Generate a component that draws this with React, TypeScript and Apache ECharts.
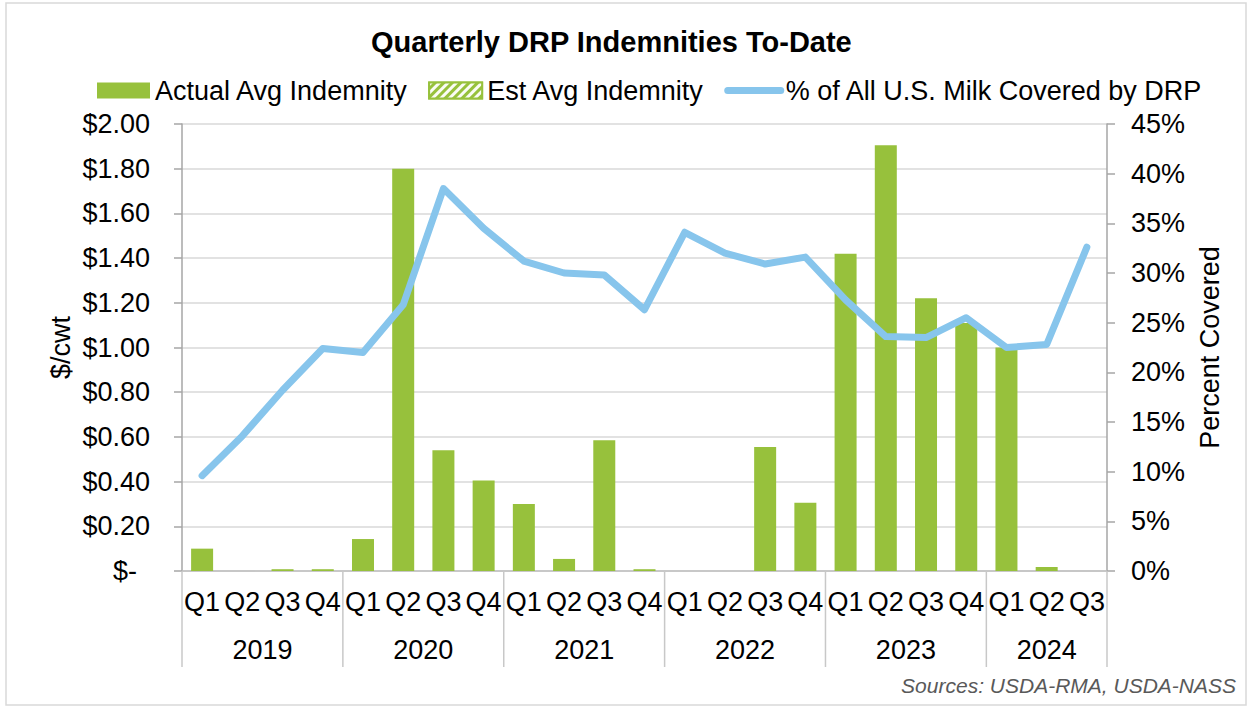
import React, { useEffect, useRef } from 'react';
import * as echarts from 'echarts';

const FONT = '"Liberation Sans", Arial, Helvetica, sans-serif';

const quarters = [
  'Q1', 'Q2', 'Q3', 'Q4',
  'Q1', 'Q2', 'Q3', 'Q4',
  'Q1', 'Q2', 'Q3', 'Q4',
  'Q1', 'Q2', 'Q3', 'Q4',
  'Q1', 'Q2', 'Q3', 'Q4',
  'Q1', 'Q2', 'Q3',
];
const years = ['2019', '2020', '2021', '2022', '2023', '2024'];
const quartersPerYear = [4, 4, 4, 4, 4, 3];

const actualIndemnity: (number | null)[] = [
  0.10, 0, 0.008, 0.008,
  0.143, 1.80, 0.54, 0.405,
  0.30, 0.054, 0.585, 0.008,
  0, 0, 0.555, 0.305,
  1.42, 1.905, 1.22, 1.11,
  1.00, 0.018, null,
];
const estIndemnity: (number | null)[] = [
  null, null, null, null,
  null, null, null, null,
  null, null, null, null,
  null, null, null, null,
  null, null, null, null,
  null, null, null,
];
const pctCovered = [
  9.6, 13.6, 18.2, 22.4,
  22.0, 26.8, 38.5, 34.5,
  31.2, 30.0, 29.8, 26.3,
  34.1, 32.0, 30.9, 31.6,
  27.3, 23.6, 23.5, 25.5,
  22.5, 22.8, 32.6,
];

const GREEN = '#97C13C';
const BLUE = '#87C5EC';
const FS = 27;

function yearStarts() {
  const out: number[] = [];
  let s = 0;
  for (const c of quartersPerYear) {
    out.push(s);
    s += c;
  }
  return out;
}

export default function App() {
  const ref = useRef<HTMLDivElement>(null);
  useEffect(() => {
    const chart = echarts.init(ref.current!, null, { renderer: 'svg' });
    const starts = yearStarts();
    const option: any = {
      animation: false,
      backgroundColor: '#ffffff',
      title: {
        text: 'Quarterly DRP Indemnities To-Date',
        left: 366,
        top: 22,
        textStyle: { fontFamily: FONT, fontSize: 29, fontWeight: 'bold', color: '#000' },
      },
      legend: {
        left: 92,
        top: 72,
        itemWidth: 53,
        itemHeight: 16,
        itemGap: 20,
        textStyle: { fontFamily: FONT, fontSize: FS, color: '#000' },
        data: [
          { name: 'Actual Avg Indemnity', icon: 'rect' },
          { name: 'Est Avg Indemnity', icon: 'rect' },
          {
            name: '% of All U.S. Milk Covered by DRP',
            itemStyle: { opacity: 0 },
            lineStyle: { width: 7, cap: 'round', color: BLUE },
          },
        ],
      },
      grid: { left: 182, right: 145, top: 124, bottom: 138, containLabel: false },
      xAxis: [
        {
          type: 'category',
          data: quarters,
          boundaryGap: true,
          axisLine: { show: true, lineStyle: { color: '#BFBFBF', width: 1.5 } },
          axisTick: { show: false },
          axisLabel: { fontFamily: FONT, fontSize: FS, color: '#000', margin: 17, interval: 0 },
          splitLine: { show: false },
        },
      ],
      yAxis: [
        {
          type: 'value',
          min: 0,
          max: 2,
          interval: 0.2,
          name: '$/cwt',
          nameLocation: 'middle',
          nameGap: 108,
          nameMoveOverlap: false,
          nameTextStyle: { fontFamily: FONT, fontSize: FS, color: '#000' },
          axisLine: { show: true, lineStyle: { color: '#A6A6A6', width: 1.5 } },
          axisTick: { show: true, length: 8, lineStyle: { color: '#A6A6A6', width: 1.5 } },
          axisLabel: {
            fontFamily: FONT,
            fontSize: FS,
            color: '#000',
            margin: 32,
            formatter: (v: number) => (v === 0 ? '{z|$-}' : '$' + v.toFixed(2)),
            rich: { z: { fontFamily: FONT, fontSize: FS, color: '#000', padding: [0, 13, 0, 0] } },
          },
          splitLine: { show: true, lineStyle: { color: '#D9D9D9', width: 1.5 } },
        },
        {
          type: 'value',
          min: 0,
          max: 45,
          interval: 5,
          position: 'right',
          name: 'Percent Covered',
          nameLocation: 'middle',
          nameGap: 89,
          nameMoveOverlap: false,
          nameTextStyle: { fontFamily: FONT, fontSize: FS, color: '#000' },
          axisLine: { show: true, lineStyle: { color: '#A6A6A6', width: 1.5 } },
          axisTick: { show: true, length: 8, lineStyle: { color: '#A6A6A6', width: 1.5 } },
          axisLabel: { fontFamily: FONT, fontSize: FS, color: '#000', margin: 24, formatter: '{value}%' },
          splitLine: { show: false },
        },
      ],
      series: [
        {
          name: 'Actual Avg Indemnity',
          type: 'bar',
          stack: 'ind',
          barWidth: 22,
          data: actualIndemnity,
          itemStyle: { color: GREEN },
          z: 2,
        },
        {
          name: 'Est Avg Indemnity',
          type: 'bar',
          stack: 'ind',
          barWidth: 22,
          data: estIndemnity,
          itemStyle: {
            color: GREEN,
            borderColor: GREEN,
            borderWidth: 1,
            decal: {
              symbol: 'rect',
              symbolSize: 1,
              color: 'rgba(255,255,255,0.95)',
              dashArrayX: [1, 0],
              dashArrayY: [3, 3],
              rotation: -Math.PI / 4,
            },
          },
          z: 2,
        },
        {
          name: '% of All U.S. Milk Covered by DRP',
          type: 'line',
          yAxisIndex: 1,
          data: pctCovered,
          symbol: 'none',
          lineStyle: { color: BLUE, width: 7, cap: 'round', join: 'round' },
          itemStyle: { color: BLUE },
          z: 5,
        },
        {
          name: 'yearGroups',
          type: 'custom',
          xAxisIndex: 0,
          yAxisIndex: 0,
          silent: true,
          clip: false,
          z: 1,
          data: starts.map((s, i) => [s, quartersPerYear[i]]),
          renderItem: (params: any, api: any) => {
            const i = params.dataIndex;
            const start = api.value(0);
            const count = api.value(1);
            const band = api.size([1, 0])[0];
            const base = api.coord([start, 0]);
            const x0 = base[0] - band / 2;
            const x1 = x0 + count * band;
            const y0 = base[1];
            const children: any[] = [
              {
                type: 'line',
                shape: { x1: x0, y1: y0, x2: x0, y2: y0 + 96 },
                style: { stroke: '#C8C8C8', lineWidth: 1.5 },
              },
              {
                type: 'text',
                style: {
                  text: years[i],
                  x: (x0 + x1) / 2,
                  y: y0 + 79,
                  align: 'center',
                  verticalAlign: 'middle',
                  fontFamily: FONT,
                  fontSize: FS,
                  fill: '#000',
                },
              },
            ];
            if (i === years.length - 1) {
              children.push({
                type: 'line',
                shape: { x1: x1, y1: y0, x2: x1, y2: y0 + 96 },
                style: { stroke: '#C8C8C8', lineWidth: 1.5 },
              });
            }
            return { type: 'group', children };
          },
        },
      ],
      graphic: [
        {
          type: 'rect',
          shape: { x: 6, y: 3, width: 1240, height: 702 },
          style: { fill: 'none', stroke: '#D9D9D9', lineWidth: 1.5 },
          silent: true,
          z: -10,
        },
        {
          type: 'text',
          right: 16,
          top: 675,
          style: {
            text: 'Sources: USDA-RMA, USDA-NASS',
            fontFamily: FONT,
            fontSize: 21,
            fontStyle: 'italic',
            fill: '#595959',
          },
        },
      ],
    };
    chart.setOption(option);
    return () => chart.dispose();
  }, []);
  return (
    <div
      ref={ref}
      style={{ position: 'fixed', left: 0, top: 0, width: 1252, height: 709, background: '#fff' }}
    />
  );
}
